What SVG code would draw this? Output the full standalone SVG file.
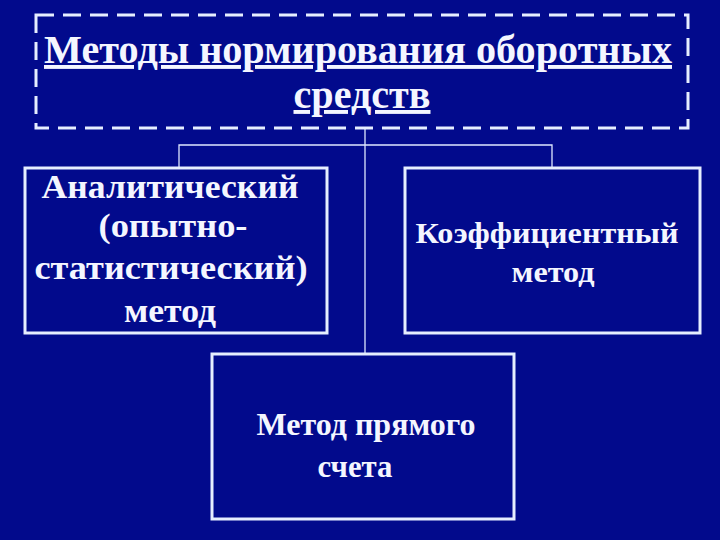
<svg xmlns="http://www.w3.org/2000/svg" width="720" height="540" viewBox="0 0 720 540">
<style>
.bg{fill:#020a8c}
.box{fill:#020a8c;stroke:#e6eeff;stroke-width:3}
.title{fill:none;stroke:#e6eeff;stroke-width:3;stroke-dasharray:18 9}
.conn{stroke:#dfe8ff;stroke-width:1.3;fill:none}
text{font-family:"Liberation Serif","Times New Roman",serif;font-weight:bold;fill:#f4f6ff;text-anchor:middle}
.t{font-size:39px;text-decoration:underline}
.l{font-size:34px}
.r{font-size:29px}
.b{font-size:31px}
</style>
<rect class="bg" x="0" y="0" width="720" height="540"/>
<g id="connectors">
<line class="conn" x1="365" y1="128" x2="365" y2="354"/>
<polyline class="conn" points="179,168 179,145 552,145 552,168"/>
</g>
<g id="title">
<rect class="title" x="36" y="15" width="652" height="113"/>
<text class="t" x="358" y="63" textLength="628" lengthAdjust="spacingAndGlyphs">Методы нормирования оборотных</text>
<text class="t" x="362" y="108" textLength="137" lengthAdjust="spacingAndGlyphs">средств</text>
</g>
<g id="analytic">
<rect class="box" x="25" y="168" width="302" height="165"/>
<text class="l" x="170" y="198" textLength="257" lengthAdjust="spacingAndGlyphs">Аналитический</text>
<text class="l" x="173" y="237" textLength="149" lengthAdjust="spacingAndGlyphs">(опытно-</text>
<text class="l" x="171" y="279" textLength="273" lengthAdjust="spacingAndGlyphs">статистический)</text>
<text class="l" x="170" y="322" textLength="92" lengthAdjust="spacingAndGlyphs">метод</text>
</g>
<g id="coefficient">
<rect class="box" x="405" y="168" width="295" height="165"/>
<text class="r" x="547" y="243" textLength="263" lengthAdjust="spacingAndGlyphs">Коэффициентный</text>
<text class="r" x="553" y="282" textLength="83" lengthAdjust="spacingAndGlyphs">метод</text>
</g>
<g id="direct">
<rect class="box" x="212" y="354" width="302" height="165"/>
<text class="b" x="366" y="435" textLength="219" lengthAdjust="spacingAndGlyphs">Метод прямого</text>
<text class="b" x="355" y="477" textLength="75" lengthAdjust="spacingAndGlyphs">счета</text>
</g>
</svg>
